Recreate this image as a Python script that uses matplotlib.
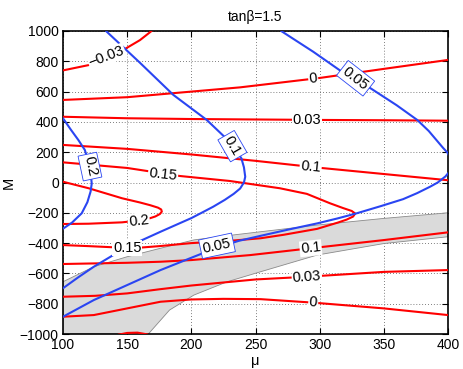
import matplotlib
matplotlib.use("Agg")
import matplotlib.pyplot as plt

plt.rcParams['font.family'] = ['Liberation Sans', 'DejaVu Sans']

# ---- data (mu, M) ----
# shaded band
band_upper_mu = [100, 124, 150, 176, 202, 233, 254, 298, 350, 400]
band_upper_M  = [-655, -556, -490, -434, -379, -346, -325, -281, -237, -200]
band_lower_mu = [100, 166.5, 183, 202, 228, 254, 298, 350, 400]
band_lower_M  = [-1000, -1000, -842, -743, -655, -589, -479, -403, -358]

# red contours
red_m003_mu = [100, 120, 147, 160, 169]
red_m003_M  = [740, 775, 875, 940, 1000]
red_0_up_mu = [100, 150, 200, 238, 300, 350, 400]
red_0_up_M  = [545, 563, 600, 628, 690, 750, 809]
red_003_up_mu = [100, 150, 200, 250, 300, 350, 400]
red_003_up_M  = [434, 424, 419, 416, 413, 411, 408]
red_01_up_mu = [100, 150, 200, 250, 300, 350, 400]
red_01_up_M  = [248, 222, 185, 143, 97, 56, 15]
red_015_mu = [100, 150, 191, 230, 269, 290, 308, 318, 325, 327.7, 326, 321, 314, 298,
              272, 254, 230, 200, 175, 160, 140, 120, 100]
red_015_M  = [133, 96, 43, 10, -38, -75, -137, -168, -188, -205, -225, -245, -265, -306,
              -345, -368, -385, -400, -420, -430, -428, -420, -413]
red_02_mu = [100, 120, 146, 160, 168, 174, 176.5, 177, 175.5, 172, 167, 160, 146, 120, 100]
red_02_M  = [5, -38, -104, -132, -150, -166, -178, -192, -208, -224, -238, -250, -263, -272, -274]
red_01_lo_mu = [100, 150, 176, 200, 246, 293, 350, 400]
red_01_lo_M  = [-538, -530, -523, -512, -479, -434, -380, -329]
red_003_lo_mu = [100, 125, 150, 175, 200, 225, 250, 290, 350, 400]
red_003_lo_M  = [-754, -748, -732, -705, -680, -660, -640, -622, -590, -578]
red_0_lo_mu = [100, 124, 150, 176, 200, 225, 254, 295, 350, 400]
red_0_lo_M  = [-886, -875, -831, -787, -772, -768, -770, -793, -831, -875]
red_m003_lo_mu = [143, 150, 158, 166]
red_m003_lo_M  = [-1005, -993, -991, -1003]

# blue contours
blue_005_mu = [270, 295, 319, 340, 360, 376, 385, 391, 396, 400, 402, 402.5, 401, 398,
               392, 386, 376, 365, 348, 329, 314, 298, 276, 254, 237, 220, 202, 176,
               150, 124, 100]
blue_005_M  = [1000, 863, 721, 620, 510, 413, 340, 280, 230, 193, 150, 110, 70, 40,
               0, -28, -70, -110, -155, -203, -237, -270, -310, -352, -385, -430, -490,
               -578, -677, -776, -886]
blue_01_mu = [133.5, 160, 186, 212, 226, 234, 239, 241, 242, 241, 238, 233, 226, 217,
              208, 200, 188, 176, 163, 150, 137, 124, 112, 100]
blue_01_M  = [1000, 790, 578, 413, 300, 220, 160, 100, 38, 0, -40, -75, -115, -160,
              -200, -235, -280, -325, -375, -424, -490, -556, -625, -698]
blue_02_mu = [100, 106, 112, 117, 121, 122.4, 121.5, 119, 114.6, 107, 100]
blue_02_M  = [424, 350, 280, 215, 104, -7, -60, -130, -203, -265, -305]

# contour labels: (text, mu, M, rotation)
red_labels = [("\u22120.03", 134, 830, 21), ("0", 295, 683, 7), ("0.03", 290, 413, 0),
              ("0.1", 293, 104, -5), ("0.15", 178, 55, -6), ("0.2", 159, -252, 6),
              ("0.15", 150, -430, 0), ("0.1", 293, -434, 6), ("0.03", 290, -622, 4),
              ("0", 295, -793, -4)]
blue_labels = [("0.05", 328, 688, -38), ("0.1", 232, 240, -60), ("0.2", 121, 105, -78),
               ("0.05", 220, -418, 12)]

x_ticks = [100, 150, 200, 250, 300, 350, 400]
y_ticks = [-1000, -800, -600, -400, -200, 0, 200, 400, 600, 800, 1000]

RED = '#ff0000'
BLUE = '#2a45f2'

fig = plt.figure(figsize=(4.63, 3.69), dpi=100)
ax = fig.add_axes([63/463, 35/369, 385/463, 303/369])

poly_mu = band_upper_mu + band_lower_mu[::-1]
poly_M = band_upper_M + band_lower_M[::-1]
ax.fill(poly_mu, poly_M, facecolor='#dadada', edgecolor='#8a8a8a', lw=0.6, zorder=1.5)

reds = [(red_m003_mu, red_m003_M), (red_0_up_mu, red_0_up_M), (red_003_up_mu, red_003_up_M),
        (red_01_up_mu, red_01_up_M), (red_015_mu, red_015_M), (red_02_mu, red_02_M),
        (red_01_lo_mu, red_01_lo_M), (red_003_lo_mu, red_003_lo_M), (red_0_lo_mu, red_0_lo_M),
        (red_m003_lo_mu, red_m003_lo_M)]
for mu, M in reds:
    ax.plot(mu, M, color=RED, lw=1.5, zorder=3, solid_capstyle='round', solid_joinstyle='round')

blues = [(blue_005_mu, blue_005_M), (blue_01_mu, blue_01_M), (blue_02_mu, blue_02_M)]
for mu, M in blues:
    ax.plot(mu, M, color=BLUE, lw=1.5, zorder=4, solid_capstyle='round', solid_joinstyle='round')

for t, x, y, r in red_labels:
    ax.text(x, y, t, rotation=r, ha='center', va='center', fontsize=10.5, zorder=5,
            rotation_mode='anchor',
            bbox=dict(facecolor='white', edgecolor='none', pad=0.6))
for t, x, y, r in blue_labels:
    ax.text(x, y, t, rotation=r, ha='center', va='center', fontsize=10.5, zorder=6,
            rotation_mode='anchor',
            bbox=dict(facecolor='white', edgecolor=BLUE, lw=0.6, pad=1.8))

ax.set_xlim(100, 400)
ax.set_ylim(-1000, 1000)
ax.set_xticks(x_ticks)
ax.set_yticks(y_ticks)
ax.set_axisbelow(True)
ax.grid(True, linestyle=(0, (1, 2.5)), color='#555555', lw=0.6, zorder=0)
ax.tick_params(direction='in', top=True, right=True, labelsize=10, length=4, width=0.8, pad=3)
for s in ax.spines.values():
    s.set_linewidth(1.2)
ax.set_title("tan\u03b2=1.5", fontsize=10, pad=7)
ax.set_xlabel("\u03bc", fontsize=10.5, labelpad=1)
ax.set_ylabel("M", fontsize=10.5, labelpad=3)

fig.savefig("out.png", dpi=100)
